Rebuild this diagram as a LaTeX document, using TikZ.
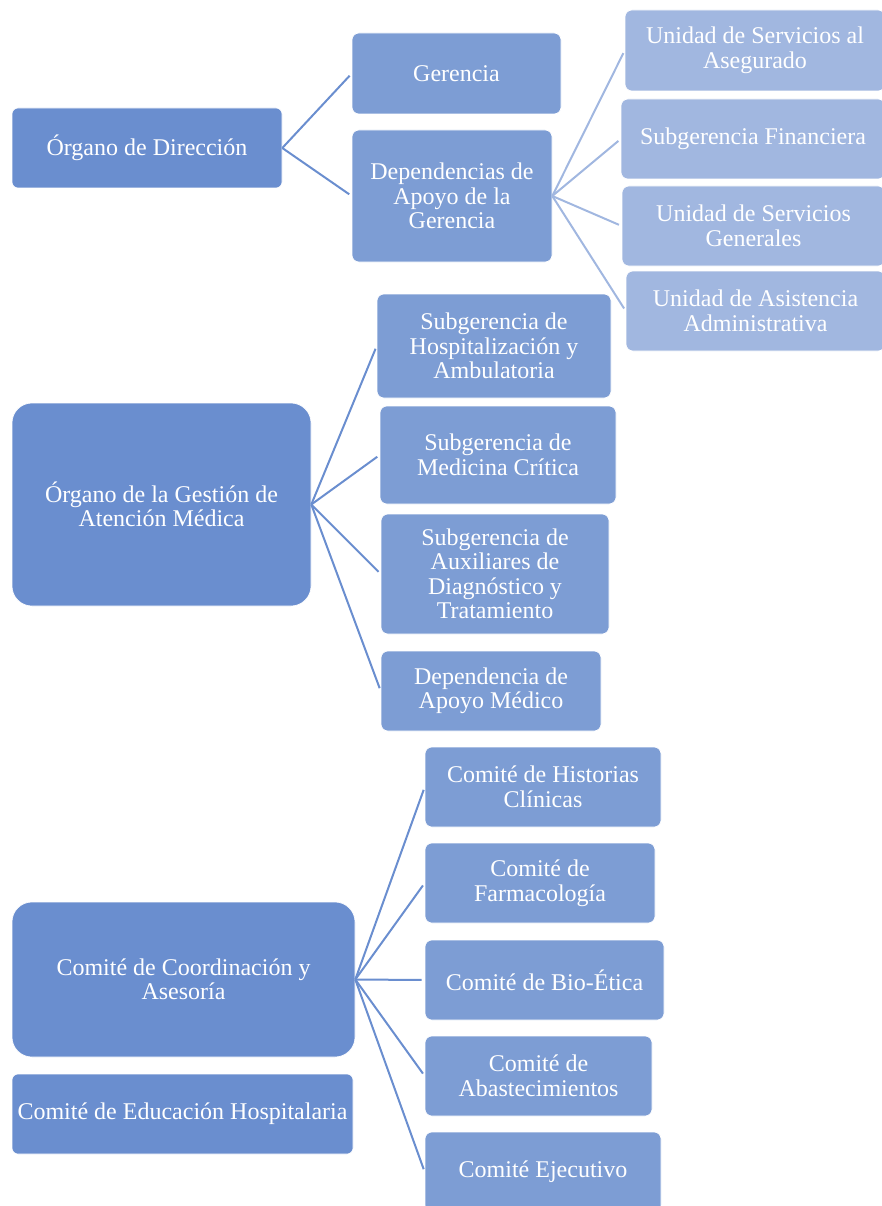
\documentclass[tikz,border=0pt]{standalone}
\usepackage{fontspec}
\setmainfont{Liberation Serif}
\definecolor{lvAcol}{HTML}{6A8ECF}
\definecolor{lvBcol}{HTML}{7D9DD4}
\definecolor{lvCcol}{HTML}{A1B7E0}
\tikzset{
  box/.style={draw=white,line width=0.6pt,align=center,text=white,inner sep=2pt,
    font=\fontsize{24}{24.5}\selectfont},
  lvA/.style={box,fill=lvAcol,rounded corners=6pt},
  lvAbig/.style={box,fill=lvAcol,rounded corners=20pt},
  lvB/.style={box,fill=lvBcol,rounded corners=7pt},
  lvC/.style={box,fill=lvCcol,rounded corners=7pt},
  lnA/.style={draw=lvAcol,line width=2pt,shorten >=3pt},
  lnC/.style={draw=lvCcol,line width=2pt,shorten >=3pt}
}
\begin{document}
\begin{tikzpicture}[x=1pt,y=-1pt,line join=round]
		\useasboundingbox (0,0) rectangle (882,1206);
		\clip (0,0) rectangle (882,1206);
		% organo de direccion
		\node[lvA,minimum width=270pt,minimum height=80pt] (dir) at (147,148) {Órgano de Dirección};
		\node[lvB,minimum width=209pt,minimum height=81pt] (ger) at (456.5,73.5) {Gerencia};
		\node[lvB,minimum width=200pt,minimum height=132pt] (dep) at (452,196) {Dependencias de\\Apoyo de la\\Gerencia};
		\node[lvC,minimum width=260pt,minimum height=81pt] (usa) at (755,50.5) {Unidad de Servicios al\\Asegurado};
		\node[lvC,minimum width=264pt,minimum height=80pt] (sfi) at (753,139) {Subgerencia Financiera};
		\node[lvC,minimum width=263pt,minimum height=80pt] (usg) at (753.5,226) {Unidad de Servicios\\Generales};
		\node[lvC,minimum width=259pt,minimum height=80pt] (uaa) at (755.5,311) {Unidad de Asistencia\\Administrativa};
		\foreach \c in {ger,dep}
		\draw[lnA] (dir.east)--(\c.west);
		\foreach \c in {usa,sfi,usg,uaa}
		\draw[lnC] (dep.east)--(\c.west);
		% gestion de atencion medica
		\node[lvAbig,minimum width=299pt,minimum height=203pt] (gam) at (161.5,504.5) {Órgano de la Gestión de\\Atención Médica};
		\node[lvB,minimum width=234pt,minimum height=104pt] (shp) at (494,346) {Subgerencia de\\Hospitalización y\\Ambulatoria};
		\node[lvB,minimum width=236pt,minimum height=98pt] (smc) at (498,455) {Subgerencia de\\Medicina Crítica};
		\node[lvB,minimum width=228pt,minimum height=120pt] (sad) at (495,574) {Subgerencia de\\Auxiliares de\\Diagnóstico y\\Tratamiento};
		\node[lvB,minimum width=220pt,minimum height=80pt] (dam) at (491,691) {Dependencia de\\Apoyo Médico};
		\foreach \c in {shp,smc,sad,dam}
		\draw[lnA] (gam.east)--(\c.west);
		% comites
		\node[lvAbig,minimum width=343pt,minimum height=155pt] (cca) at (183.5,979.5) {Comité de Coordinación y\\Asesoría};
		\node[lvA,minimum width=341pt,minimum height=80pt] (ceh) at (182.5,1114) {Comité de Educación Hospitalaria};
		\node[lvB,minimum width=236pt,minimum height=80pt] (chc) at (543,787) {Comité de Historias\\Clínicas};
		\node[lvB,minimum width=230pt,minimum height=80pt] (cfa) at (540,883) {Comité de\\Farmacología};
		\node[lvB,minimum width=239pt,minimum height=80pt] (cbe) at (544.5,980) {Comité de Bio-Ética};
		\node[lvB,minimum width=227pt,minimum height=80pt] (cab) at (538.5,1076) {Comité de\\Abastecimientos};
		\node[lvB,minimum width=236pt,minimum height=80pt] (cej) at (543,1172) {Comité Ejecutivo};
		\foreach \c in {chc,cfa,cbe,cab,cej}
		\draw[lnA] (cca.east)--(\c.west);
		\end{tikzpicture}
\end{document}
